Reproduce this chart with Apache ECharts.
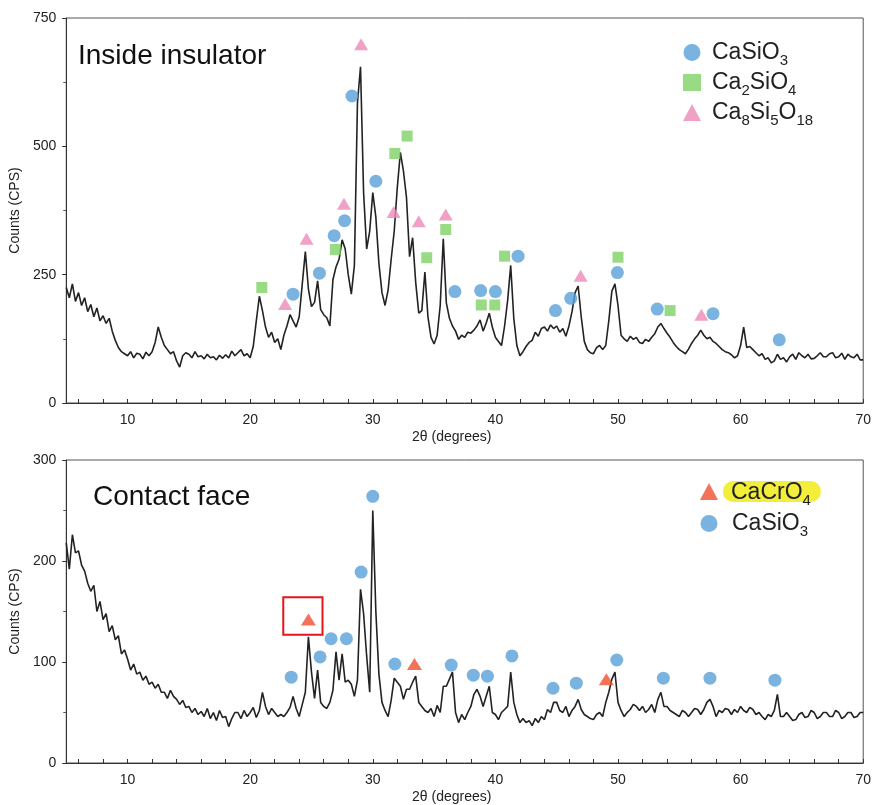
<!DOCTYPE html>
<html>
<head>
<meta charset="utf-8">
<script src="https://cdn.jsdelivr.net/npm/echarts/dist/echarts.min.js"></script>
<style>
  html, body { margin: 0; padding: 0; background: #fff; }
  #chart { width: 874px; height: 805px; }
</style>
</head>
<body>
<div id="chart"></div>
<script>
// step scan, 2θ from 5° to 70° every 0.25°
const twoThetaStart = 5
const twoThetaStep = 0.25

// Inside insulator, counts (CPS), one row per degree
const insideCounts = [
  225, 205, 232, 198,
  215, 190, 205, 178,
  192, 168, 185, 160,
  170, 155, 165, 140,
  122, 108, 100, 96,
  92, 100, 88, 97,
  95, 86, 99, 92,
  100, 118, 148, 128,
  112, 104, 96, 100,
  82, 70, 92, 98,
  95, 88, 100, 90,
  92, 86, 95, 88,
  90, 84, 93, 87,
  94, 88, 101, 92,
  98, 104, 92, 96,
  88, 110, 160, 208,
  180, 148, 128, 138,
  118, 125, 104, 132,
  150, 172, 160, 148,
  168, 232, 295, 222,
  188, 196, 238, 182,
  172, 166, 150, 240,
  265, 280, 318, 300,
  250, 212, 268, 585,
  655, 410, 300, 335,
  410, 362, 272, 215,
  190, 220, 280, 335,
  420, 488, 452, 400,
  285, 322, 235, 175,
  180, 255, 168, 128,
  115, 132, 190, 320,
  195, 165, 150, 140,
  124, 132, 128, 138,
  136, 142, 150, 162,
  140, 156, 175, 148,
  128, 120, 112, 150,
  200, 268, 165, 112,
  92, 100, 110, 118,
  122, 138, 130, 145,
  148, 140, 152, 145,
  150, 138, 145, 130,
  150, 178, 215, 228,
  168, 120, 104, 98,
  96, 108, 112, 104,
  112, 160, 218, 232,
  190, 132, 125, 120,
  130, 124, 128, 118,
  116, 124, 120, 128,
  135, 148, 155, 145,
  136, 128, 118, 110,
  104, 100, 96, 105,
  116, 125, 132, 142,
  132, 125, 128, 120,
  116, 110, 104, 100,
  98, 94, 88, 92,
  112, 148, 108, 110,
  104, 98, 92, 96,
  85, 88, 78, 82,
  95, 85, 88, 80,
  90, 95, 85, 98,
  92, 88, 95, 86,
  87, 92, 98, 90,
  90, 96, 98, 88,
  90, 97, 85, 95,
  90, 88, 95, 84,
  84
]

// Contact face, counts (CPS)
const contactCounts = [
  218, 192, 226, 208,
  210, 196, 190, 178,
  170, 176, 150, 160,
  142, 148, 130, 136,
  122, 126, 108, 112,
  103, 92, 98, 88,
  90, 82, 86, 78,
  80, 74, 78, 70,
  70, 64, 72, 66,
  63, 58, 62, 55,
  56, 50, 54, 48,
  51, 46, 54, 44,
  50, 42, 52, 45,
  46, 36, 44, 50,
  50, 44, 52, 46,
  50, 55, 45, 52,
  70, 56, 48, 54,
  50, 46, 48, 46,
  50, 55, 66, 54,
  46, 58, 70, 125,
  90, 64, 92, 60,
  56, 54, 60, 72,
  110, 82, 108, 80,
  82, 78, 66, 82,
  172, 148, 106, 70,
  250, 150, 88, 60,
  52, 46, 62, 84,
  80, 76, 63, 73,
  73, 80, 86, 60,
  56, 52, 50, 54,
  46, 57, 50, 76,
  76, 83, 90, 50,
  40, 48, 43, 50,
  56, 68, 73, 66,
  56, 66, 76, 50,
  48, 43, 50, 53,
  56, 90, 60, 48,
  40, 44, 40, 42,
  37, 44, 40, 46,
  43, 53, 50, 60,
  60, 52, 50, 56,
  46, 52, 56, 63,
  53, 48, 46, 44,
  43, 48, 50, 46,
  60, 70, 83, 90,
  60, 52, 46, 50,
  53, 58, 56, 52,
  56, 50, 53, 58,
  50, 63, 70, 56,
  56, 52, 50, 48,
  46, 52, 50, 46,
  50, 54, 53, 48,
  53, 60, 63, 56,
  46, 52, 50, 54,
  53, 48, 53, 50,
  56, 52, 50, 55,
  53, 48, 50, 46,
  43, 48, 46, 52,
  68, 46, 46, 50,
  46, 42, 43, 48,
  50, 45, 46, 52,
  50, 44, 46, 50,
  50, 46, 46, 52,
  50, 44, 46, 50,
  50, 45, 46, 50,
  50
]

// phase markers [2θ, counts]
const insideCaSiO3 = [[23.5, 212], [25.65, 253], [26.85, 326], [27.7, 355], [28.3, 598], [30.25, 432], [36.7, 217], [38.8, 219], [40.0, 217], [41.85, 286], [44.9, 180], [46.15, 204], [49.95, 254], [53.2, 183], [57.75, 174], [63.15, 123]]
const insideCa2SiO4 = [[20.95, 225], [26.95, 299], [31.8, 486], [32.8, 520], [34.4, 283], [35.95, 338], [38.85, 191], [39.95, 191], [40.75, 286], [50.0, 284], [54.25, 180]]
const insideCa8Si5O18 = [[22.85, 193], [24.6, 320], [27.65, 388], [29.05, 699], [31.7, 372], [33.75, 354], [35.95, 367], [46.95, 248], [56.8, 172]]
const contactCaCrO4 = [[24.75, 142], [33.4, 98], [49.05, 83]]
const contactCaSiO3 = [[23.35, 85], [25.7, 105], [26.6, 123], [27.85, 123], [29.05, 189], [30.0, 264], [31.8, 98], [36.4, 97], [38.2, 87], [39.35, 86], [41.35, 106], [44.7, 74], [46.6, 79], [49.9, 102], [53.7, 84], [57.5, 84], [62.8, 82]]
// the boxed CaCrO4 peak, [2θ, counts] corners
const boxedPeak = [[22.7, 127], [25.9, 164]]

const xLabelValues = [10, 20, 30, 40, 50, 60, 70]
const xTickValues = [6, 8, 10, 12, 14, 16, 18, 20, 22, 24, 26, 28, 30, 32, 34, 36, 38, 40, 42, 44, 46, 48, 50, 52, 54, 56, 58, 60, 62, 64, 66, 68, 70]

const formulaLabels = {
  CaSiO3: 'CaSiO{sub|3}',
  Ca2SiO4: 'Ca{sub|2}SiO{sub|4}',
  Ca8Si5O18: 'Ca{sub|8}Si{sub|5}O{sub|18}',
  CaCrO4: 'CaCrO{sub|4}'
}

const FONT = '"Liberation Sans", Arial, sans-serif'
const BLUE = '#5aa0d8'
const GREEN = '#80d166'
const PINK = '#ee88b8'
const RED = '#f0502f'

const toPairs = counts => counts.map((c, i) => [twoThetaStart + i * twoThetaStep, c])

const xAxisBase = gridIndex => ({
  type: 'value',
  gridIndex,
  min: 5,
  max: 70,
  name: '2θ (degrees)',
  nameLocation: 'middle',
  nameGap: 27,
  nameTextStyle: { color: '#222', fontSize: 14, fontFamily: FONT, padding: [0, 26, 0, 0] },
  axisLine: { onZero: false, lineStyle: { color: '#333', width: 1 } },
  axisTick: { show: true, inside: true, length: 4, customValues: xTickValues, lineStyle: { color: '#333' } },
  axisLabel: { customValues: xLabelValues, color: '#222', fontSize: 14, fontFamily: FONT, margin: 10 },
  splitLine: { show: false }
})

const yAxisBase = (gridIndex, max, interval) => ({
  type: 'value',
  gridIndex,
  min: 0,
  max,
  interval,
  name: 'Counts (CPS)',
  nameLocation: 'middle',
  nameGap: 27,
  nameTextStyle: { color: '#222', fontSize: 14, fontFamily: FONT },
  axisLine: { show: true, lineStyle: { color: '#333', width: 1 } },
  axisTick: { show: true, length: 4, lineStyle: { color: '#333' } },
  minorTick: { show: true, splitNumber: 2, length: 3, lineStyle: { color: '#555' } },
  axisLabel: { color: '#222', fontSize: 14, fontFamily: FONT, margin: 10 },
  splitLine: { show: false }
})

const subRich = {
  sub: { fontSize: 15, lineHeight: 15, fontFamily: FONT, color: '#222', padding: [16, 0, 0, 0] }
}

const legendText = {
  fontSize: 23, lineHeight: 23, fontFamily: FONT, color: '#222', rich: subRich
}

const traceStyle = { color: '#222', width: 1.6 }

const chart = echarts.init(document.getElementById('chart'))

chart.setOption({
  backgroundColor: '#fff',
  animation: false,
  title: [
    { text: 'Inside insulator', left: 73, top: 37, textStyle: { fontSize: 28, fontWeight: 'normal', color: '#111', fontFamily: FONT } },
    { text: 'Contact face', left: 88, top: 478, textStyle: { fontSize: 28, fontWeight: 'normal', color: '#111', fontFamily: FONT } }
  ],
  grid: [
    { left: 61, right: 7, top: 18, height: 385, show: true, borderColor: '#555', borderWidth: 1 },
    { left: 63, right: 7, top: 460, height: 304, show: true, borderColor: '#555', borderWidth: 1 }
  ],
  legend: [
    {
      orient: 'vertical', left: 678, top: 32, itemWidth: 18, itemHeight: 17, itemGap: -1,
      data: ['CaSiO3', 'Ca2SiO4', 'Ca8Si5O18'],
      formatter: name => formulaLabels[name],
      textStyle: Object.assign({ padding: [0, 0, 0, 6] }, legendText)
    },
    {
      orient: 'vertical', left: 695, top: 472, itemWidth: 18, itemHeight: 17, itemGap: 0,
      data: [
        { name: 'CaCrO4', textStyle: { backgroundColor: '#f2ee3a', borderRadius: 10, padding: [0, 10, -2, 8] } },
        'CaSiO3'
      ],
      formatter: name => formulaLabels[name],
      textStyle: Object.assign({ padding: [0, 0, 0, 9] }, legendText)
    }
  ],
  xAxis: [xAxisBase(0), xAxisBase(1)],
  yAxis: [yAxisBase(0, 750, 250), yAxisBase(1, 300, 100)],
  series: [
    {
      name: 'inside', type: 'line', xAxisIndex: 0, yAxisIndex: 0,
      data: toPairs(insideCounts), showSymbol: false, lineStyle: traceStyle, z: 2
    },
    {
      name: 'contact', type: 'line', xAxisIndex: 1, yAxisIndex: 1,
      data: toPairs(contactCounts), showSymbol: false, lineStyle: traceStyle, z: 2
    },
    {
      name: 'CaSiO3', type: 'scatter', xAxisIndex: 0, yAxisIndex: 0, data: insideCaSiO3,
      symbol: 'circle', symbolSize: 13, itemStyle: { color: BLUE }, z: 5
    },
    {
      name: 'Ca2SiO4', type: 'scatter', xAxisIndex: 0, yAxisIndex: 0, data: insideCa2SiO4,
      symbol: 'rect', symbolSize: 11, itemStyle: { color: GREEN }, z: 5
    },
    {
      name: 'Ca8Si5O18', type: 'scatter', xAxisIndex: 0, yAxisIndex: 0, data: insideCa8Si5O18,
      symbol: 'triangle', symbolSize: [14, 12], itemStyle: { color: PINK }, z: 5
    },
    {
      name: 'CaCrO4', type: 'scatter', xAxisIndex: 1, yAxisIndex: 1, data: contactCaCrO4,
      symbol: 'triangle', symbolSize: [15, 12], itemStyle: { color: RED }, z: 5,
      markArea: {
        silent: true,
        itemStyle: { color: 'rgba(0,0,0,0)', borderColor: '#e8141c', borderWidth: 2 },
        data: [[{ coord: boxedPeak[0] }, { coord: boxedPeak[1] }]]
      }
    },
    {
      name: 'CaSiO3', type: 'scatter', xAxisIndex: 1, yAxisIndex: 1, data: contactCaSiO3,
      symbol: 'circle', symbolSize: 13, itemStyle: { color: BLUE }, z: 5
    }
  ]
})

window.addEventListener('resize', () => chart.resize())
</script>
</body>
</html>
